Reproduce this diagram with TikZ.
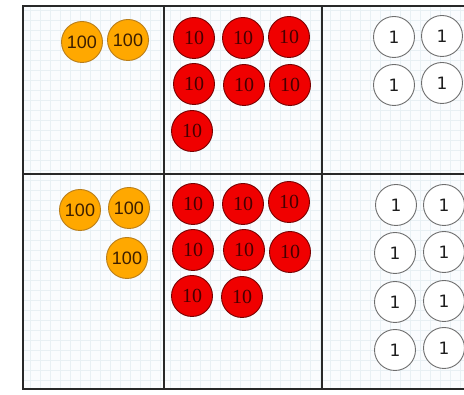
\documentclass[tikz,border=0pt]{standalone}
\usepackage{fontspec}
\newfontfamily\hundfont{Liberation Sans}
\newfontfamily\tenfont{Liberation Serif}
\newfontfamily\onefont{DejaVu Sans}
\definecolor{gridc}{RGB}{232,240,244}
\definecolor{framec}{RGB}{40,40,40}
\definecolor{orangefill}{RGB}{255,168,0}
\definecolor{orangeline}{RGB}{185,125,25}
\definecolor{hundtext}{RGB}{60,30,0}
\definecolor{redfill}{RGB}{240,0,0}
\definecolor{redline}{RGB}{120,0,0}
\definecolor{tentext}{RGB}{70,0,0}
\definecolor{oneline}{RGB}{110,110,110}
\definecolor{onetext}{RGB}{30,30,30}
\definecolor{bgc}{RGB}{250,252,254}
\tikzset{
  disc/.style={circle, minimum size=41pt, inner sep=0pt, line width=0.9pt},
  hund/.style={disc, fill=orangefill, draw=orangeline, text=hundtext, font=\hundfont\fontsize{18}{18}\selectfont},
  tens/.style={disc, fill=redfill, draw=redline, text=tentext, font=\tenfont\fontsize{20}{20}\selectfont},
  ones/.style={disc, fill=white, draw=oneline, text=onetext, font=\onefont\fontsize{17}{17}\selectfont},
  framel/.style={draw=framec, line width=1.8pt},
}
\begin{document}
\begin{tikzpicture}[x=1pt,y=-1pt]
\useasboundingbox (0,0) rectangle (464,395);
\clip (0,0) rectangle (464,395);
\fill[bgc] (23,6) rectangle (480,389);
\draw[gridc, line width=0.35pt] (23,6) grid[step=10pt] (480,389);
% frame
\draw[framel] (23,6) rectangle (480,389);
\draw[framel] (23,174) -- (480,174);
\draw[framel] (164,6) -- (164,389);
\draw[framel] (322,6) -- (322,389);
% top row hundreds
\node[hund] (h1) at (82,42) {100};
\node[hund] (h2) at (128,40) {100};
% top row tens
\node[tens] (t1) at (194,38) {10};
\node[tens] (t2) at (243,38) {10};
\node[tens] (t3) at (289,37) {10};
\node[tens] (t4) at (194,84) {10};
\node[tens] (t5) at (244,85) {10};
\node[tens] (t6) at (290,85) {10};
\node[tens] (t7) at (192,131) {10};
% top row ones
\node[ones] (o1) at (394,37) {1};
\node[ones] (o2) at (442,36) {1};
\node[ones] (o3) at (394,85) {1};
\node[ones] (o4) at (442,83) {1};
% bottom row hundreds
\node[hund] (h3) at (80,210) {100};
\node[hund] (h4) at (129,208) {100};
\node[hund] (h5) at (127,258) {100};
% bottom row tens
\node[tens] (t8) at (193,204) {10};
\node[tens] (t9) at (243,204) {10};
\node[tens] (t10) at (289,202) {10};
\node[tens] (t11) at (193,250) {10};
\node[tens] (t12) at (244,250) {10};
\node[tens] (t13) at (290,252) {10};
\node[tens] (t14) at (192,296) {10};
\node[tens] (t15) at (242,297) {10};
% bottom row ones
\node[ones] (o5) at (396,205) {1};
\node[ones] (o6) at (444,205) {1};
\node[ones] (o7) at (395,253) {1};
\node[ones] (o8) at (444,252) {1};
\node[ones] (o9) at (395,302) {1};
\node[ones] (o10) at (444,301) {1};
\node[ones] (o11) at (395,350) {1};
\node[ones] (o12) at (444,348) {1};
\end{tikzpicture}
\end{document}
